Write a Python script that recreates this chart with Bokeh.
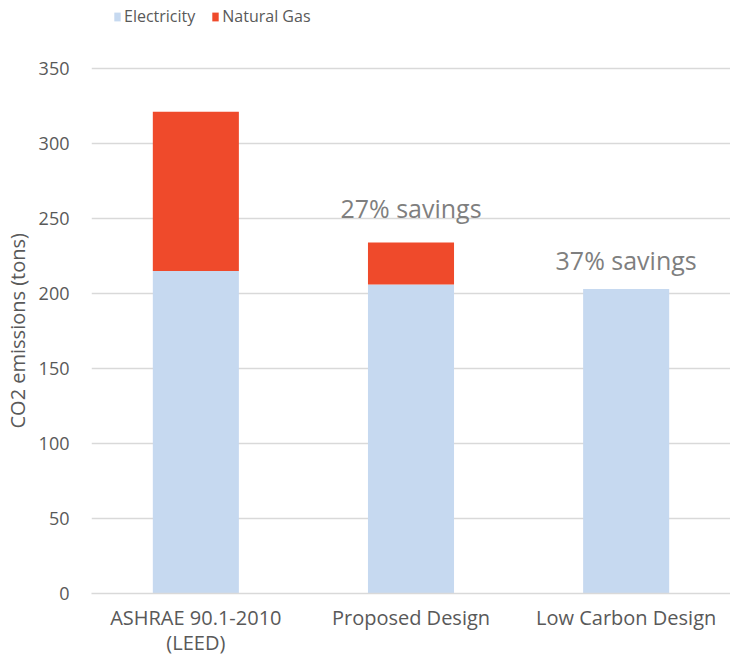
from bokeh.plotting import figure
from bokeh.models import ColumnDataSource, Legend, LegendItem, Range1d, FixedTicker, Label
from bokeh.embed import file_html
from bokeh.resources import INLINE

categories = ["ASHRAE 90.1-2010\n(LEED)", "Proposed Design", "Low Carbon Design"]
electricity = [215, 206, 203]
natural_gas = [106, 28, 0]
y_ticks = [0, 50, 100, 150, 200, 250, 300, 350]
savings_labels = ["", "27% savings", "37% savings"]
savings_y = [0, 257, 222]

FONT = "Open Sans"
TXT = "#595959"
GRID = "#D9D9D9"

source = ColumnDataSource(dict(cat=categories, Electricity=electricity, NaturalGas=natural_gas))

p = figure(x_range=categories, width=730, height=659, output_backend="svg",
           toolbar_location=None, min_border_left=0, min_border_right=0,
           min_border_top=0, min_border_bottom=0)
# extra headroom above 350 holds the legend (no ticks/grid there)
p.y_range = Range1d(0, 395.2)
p.outline_line_color = None
p.background_fill_color = "white"

r = p.vbar_stack(["Electricity", "NaturalGas"], x="cat", width=0.4, source=source,
                 color=["#C6D9F0", "#EF4A2B"], line_color=None)

for c, t, y in zip(categories, savings_labels, savings_y):
    if t:
        p.add_layout(Label(x=categories.index(c) + 0.5, y=y, text=t, text_align="center",
                           text_baseline="middle", text_font=FONT, text_font_size="25px",
                           text_color="#7F7F7F"))

p.xgrid.grid_line_color = None
p.ygrid.grid_line_color = GRID
p.ygrid.grid_line_width = 1.3
p.yaxis.ticker = FixedTicker(ticks=y_ticks)
p.yaxis.axis_line_color = None
p.yaxis.major_tick_line_color = None
p.yaxis.minor_tick_line_color = None
p.yaxis.major_label_standoff = 16
p.yaxis.major_label_text_font = FONT
p.yaxis.major_label_text_font_size = "18px"
p.yaxis.major_label_text_color = TXT
# trailing no-break spaces centre the visible label on the 0-350 span
p.yaxis.axis_label = "CO2 emissions (tons)" + "\u00a0" * 13
p.yaxis.axis_label_text_font = FONT
p.yaxis.axis_label_text_font_size = "20px"
p.yaxis.axis_label_text_font_style = "normal"
p.yaxis.axis_label_text_color = TXT
p.yaxis.axis_label_standoff = 5

p.xaxis.axis_line_color = GRID
p.xaxis.axis_line_width = 1.3
p.xaxis.major_tick_line_color = None
p.xaxis.minor_tick_line_color = None
p.xaxis.major_label_standoff = 4
p.xaxis.major_label_text_font = FONT
p.xaxis.major_label_text_font_size = "20px"
p.xaxis.major_label_text_line_height = 0.95
p.xaxis.major_label_text_color = TXT
p.x_range.range_padding = -0.01

legend = Legend(items=[LegendItem(label="Electricity", renderers=[r[0]]),
                       LegendItem(label="Natural Gas", renderers=[r[1]])],
                orientation="horizontal", location=(22, 566))
legend.border_line_color = None
legend.background_fill_alpha = 0
legend.glyph_width = 8
legend.glyph_height = 11
legend.label_standoff = 3
legend.spacing = 16
legend.padding = 0
legend.margin = 0
legend.label_text_font = FONT
legend.label_text_font_size = "16px"
legend.label_text_color = TXT
p.add_layout(legend, "center")

open("out.html", "w").write(file_html(p, INLINE))
